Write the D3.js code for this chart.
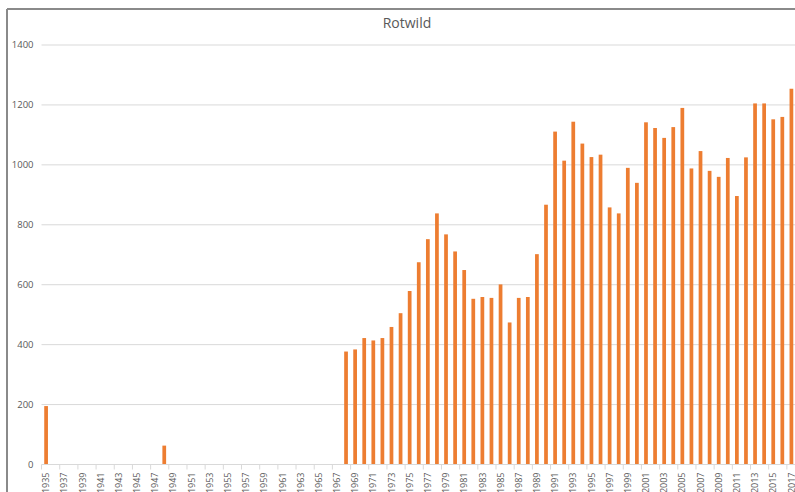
<!DOCTYPE html>
<html>
<head>
<meta charset="utf-8">
<script src="https://cdn.jsdelivr.net/npm/d3@7"></script>
<style>
  body { margin: 0; background: #fff; }
  svg { display: block; font-family: "Open Sans", "Liberation Sans", sans-serif; }
</style>
</head>
<body>
<div id="chart"></div>
<script>
// years 1935..2017 (one bar slot each)
var years = d3.range(1935, 2018);

// Rotwild counts, only years with a bar
var valueYears = [1935, 1948,
  1968, 1969, 1970, 1971, 1972, 1973, 1974, 1975, 1976, 1977, 1978, 1979,
  1980, 1981, 1982, 1983, 1984, 1985, 1986, 1987, 1988, 1989, 1990, 1991,
  1992, 1993, 1994, 1995, 1996, 1997, 1998, 1999, 2000, 2001, 2002, 2003,
  2004, 2005, 2006, 2007, 2008, 2009, 2010, 2011, 2012, 2013, 2014, 2015,
  2016, 2017];
var values = [195, 63,
  377, 384, 422, 414, 422, 459, 505, 579, 675, 752, 838, 768,
  711, 649, 553, 559, 556, 601, 474, 556, 559, 702, 867, 1111,
  1014, 1144, 1071, 1026, 1034, 858, 838, 990, 940, 1142, 1123, 1090,
  1126, 1190, 988, 1046, 980, 960, 1023, 896, 1025, 1205, 1205, 1152,
  1160, 1254];

var yTicks = [0, 200, 400, 600, 800, 1000, 1200, 1400];
var title = "Rotwild";

var data = valueYears.map(function(y, i) { return {year: y, value: values[i]}; });

var W = 795, H = 492;
var margin = {top: 45, right: -1, bottom: 27.5, left: 41.5};
var width = W - margin.left - margin.right,
    height = H - margin.top - margin.bottom;

var svg = d3.select("#chart").append("svg")
    .attr("width", W).attr("height", H);

// frame (only left + top visible in the crop)
svg.append("line").attr("x1", 7).attr("x2", 7).attr("y1", 9).attr("y2", H)
    .attr("stroke", "#8a8a8a").attr("stroke-width", 2);
svg.append("line").attr("x1", 7).attr("x2", W).attr("y1", 9).attr("y2", 9)
    .attr("stroke", "#8a8a8a").attr("stroke-width", 2);

svg.append("text")
    .attr("x", 407).attr("y", 28)
    .attr("text-anchor", "middle")
    .attr("font-size", 14)
    .attr("fill", "#595959")
    .text(title);

var g = svg.append("g")
    .attr("transform", "translate(" + margin.left + "," + margin.top + ")");

var x = d3.scaleBand()
    .domain(years)
    .range([0, width])
    .paddingInner(0.59)
    .paddingOuter(0.3);

var y = d3.scaleLinear()
    .domain([0, 1400])
    .range([height, 0]);

// gridlines
g.append("g")
  .selectAll("line")
  .data(yTicks.filter(function(d) { return d > 0; }))
  .join("line")
    .attr("x1", 0).attr("x2", width)
    .attr("y1", function(d) { return y(d); })
    .attr("y2", function(d) { return y(d); })
    .attr("stroke", "#d9d9d9").attr("stroke-width", 1);

// y labels
g.append("g")
  .selectAll("text")
  .data(yTicks)
  .join("text")
    .attr("x", -8)
    .attr("y", function(d) { return y(d); })
    .attr("dy", "0.35em")
    .attr("text-anchor", "end")
    .attr("font-size", 9.5)
    .attr("fill", "#595959")
    .text(function(d) { return d; });

// bars
g.append("g")
  .selectAll("rect")
  .data(data)
  .join("rect")
    .attr("x", function(d) { return x(d.year); })
    .attr("y", function(d) { return y(d.value); })
    .attr("width", x.bandwidth())
    .attr("height", function(d) { return height - y(d.value); })
    .attr("fill", "#ed7d31");

// x axis line + ticks every two slots
var step = x.step();
var xa = g.append("g").attr("transform", "translate(0," + height + ")");
xa.append("line").attr("x1", 0).attr("x2", width)
    .attr("stroke", "#d9d9d9");
xa.selectAll("line.tk")
  .data(years.filter(function(d, i) { return i % 2 === 0; }))
  .join("line").attr("class", "tk")
    .attr("x1", function(d) { return x(d) - x.padding() * 0 - (step - x.bandwidth()) / 2; })
    .attr("x2", function(d) { return x(d) - (step - x.bandwidth()) / 2; })
    .attr("y1", 0).attr("y2", 5)
    .attr("stroke", "#d9d9d9");

xa.selectAll("text")
  .data(years.filter(function(d, i) { return i % 2 === 0; }))
  .join("text")
    .attr("transform", function(d) {
      return "translate(" + (x(d) + x.bandwidth() / 2) + ",8)rotate(-90)";
    })
    .attr("dy", "0.35em")
    .attr("text-anchor", "end")
    .attr("font-size", 9)
    .attr("fill", "#595959")
    .text(function(d) { return d; });
</script>
</body>
</html>
